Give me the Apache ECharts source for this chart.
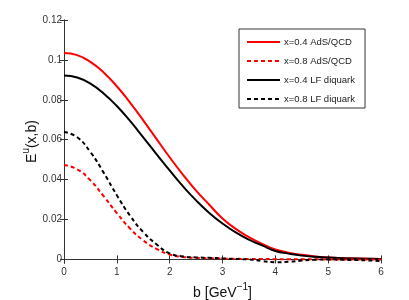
<!DOCTYPE html>
<html><head><meta charset="utf-8">
<script src="https://cdn.jsdelivr.net/npm/echarts@6/dist/echarts.min.js"></script>
<style>html,body{margin:0;padding:0;background:#fff}#c{width:409px;height:300px}</style>
</head><body><div id="c"></div>
<script>
var bValues = [0,0.25,0.5,0.75,1,1.25,1.5,1.75,2,2.25,2.5,2.75,3,3.25,3.5,3.75,4,4.25,4.5,4.75,5,5.25,5.5,5.75,6];
var adsX04 = [0.1035,0.1024,0.0990,0.0937,0.0868,0.0786,0.0697,0.0604,0.0512,0.0425,0.0345,0.0274,0.0205,0.0153,0.0112,0.0078,0.0050,0.0034,0.0023,0.0015,0.0010,0.0007,0.0005,0.0003,0.0002];
var adsX08 = [0.0473,0.0452,0.0396,0.0317,0.0232,0.0155,0.0095,0.0053,0.0025,0.0012,0.0008,0.0006,0.0004,0.0003,0.0002,0.0002,0.0001,0.0001,0.0001,0.0001,0.0000,0.0000,0.0000,0.0000,0.0000];
var lfX04 = [0.0922,0.0912,0.0881,0.0832,0.0769,0.0694,0.0612,0.0528,0.0446,0.0367,0.0296,0.0233,0.0180,0.0135,0.0099,0.0070,0.0042,0.0029,0.0019,0.0013,0.0009,0.0006,0.0004,0.0003,0.0002];
var lfX08 = [0.0639,0.0612,0.0538,0.0435,0.0322,0.0219,0.0137,0.0076,0.0030,0.0015,0.0010,0.0008,0.0005,0.0002,0.0000,-0.0008,-0.0014,-0.0012,-0.0006,-0.0002,0.0000,-0.0002,-0.0003,-0.0005,-0.0008];
var seriesNames = ['x=0.4 AdS/QCD','x=0.8 AdS/QCD','x=0.4 LF diquark','x=0.8 LF diquark'];
var xTicks = [0,1,2,3,4,5,6];
var yTicks = [0,0.02,0.04,0.06,0.08,0.1,0.12];

function zip(v){ return bValues.map(function(b,i){ return [b, v[i]]; }); }
var FONT = '"Liberation Sans", Arial, Helvetica, sans-serif';
var axisCol = '#333';
var chart = echarts.init(document.getElementById('c'), null, {renderer:'canvas'});
function mkSeries(name, data, color, dashed){
  return {name:name, type:'line', data:zip(data), symbol:'none', smooth:true, xAxisIndex:0, yAxisIndex:0,
    lineStyle:{color:color, width:2, type: dashed ? [4,3] : 'solid'}, itemStyle:{color:color}, z: dashed?3:2, animation:false};
}
var richName = {n:{fontSize:14, fontFamily:FONT, color:'#111', lineHeight:18, verticalAlign:'bottom'}, s:{fontSize:10, fontFamily:FONT, color:'#111', lineHeight:18, verticalAlign:'top'}};
chart.setOption({
  animation:false,
  textStyle:{fontFamily:FONT},
  grid:{left:64, right:28, top:20, bottom:37, containLabel:false, outerBoundsMode:'none'},
  xAxis:[
    {type:'value', min:0, max:6, interval:1, position:'bottom',
     name:'{n|b [GeV}{s|−1}{n|]}', nameLocation:'middle', nameGap:19, nameMoveOverlap:false,
     nameTextStyle:{rich:richName},
     axisLine:{show:true, lineStyle:{color:axisCol, width:1}},
     axisTick:{show:true, inside:true, length:4, customValues:xTicks, lineStyle:{color:axisCol}},
     axisLabel:{color:'#333', fontSize:10, fontFamily:FONT, margin:4, customValues:xTicks},
     splitLine:{show:false}},
    {type:'value', min:0, max:6, interval:1, position:'top',
     axisLine:{show:true, lineStyle:{color:axisCol, width:1}},
     axisTick:{show:true, inside:true, length:4, customValues:xTicks, lineStyle:{color:axisCol}},
     axisLabel:{show:false}, splitLine:{show:false}}
  ],
  yAxis:[
    {type:'value', min:-0.0018, max:0.12, position:'left',
     name:'{n|E}{s|u}{n|(x,b)}', nameLocation:'middle', nameGap:25, nameRotate:90, nameMoveOverlap:false,
     nameTextStyle:{rich:richName},
     axisLine:{show:true, lineStyle:{color:axisCol, width:1}},
     axisTick:{show:true, inside:true, length:4, customValues:yTicks, lineStyle:{color:axisCol}},
     axisLabel:{color:'#333', fontSize:10, fontFamily:FONT, margin:2, customValues:yTicks,
       formatter:function(v){ return String(+(+v).toFixed(2)); }},
     splitLine:{show:false}},
    {type:'value', min:-0.0018, max:0.12, position:'right',
     axisLine:{show:true, lineStyle:{color:axisCol, width:1}},
     axisTick:{show:true, inside:true, length:4, customValues:yTicks, lineStyle:{color:axisCol}},
     axisLabel:{show:false}, splitLine:{show:false}}
  ],
  legend:{
    orient:'vertical', left:239, top:29,
    padding:[8,10,4,7], itemGap:9, itemWidth:33, itemHeight:10,
    backgroundColor:'#fff', borderColor:'#333', borderWidth:1,
    itemStyle:{opacity:0},
    textStyle:{fontSize:9.5, fontFamily:FONT, color:'#222', padding:[0,0,0,-1]},
    data:seriesNames
  },
  series:[
    mkSeries(seriesNames[0], adsX04, '#ff0000', false),
    mkSeries(seriesNames[1], adsX08, '#ff0000', true),
    mkSeries(seriesNames[2], lfX04, '#000000', false),
    mkSeries(seriesNames[3], lfX08, '#000000', true)
  ]
});
</script></body></html>
